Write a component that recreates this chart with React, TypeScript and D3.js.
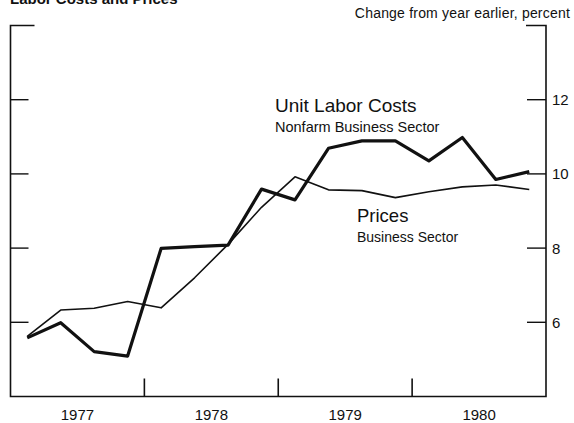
import React from 'react'
import * as d3 from 'd3'

// quarterly observations, 1977:Q1 through 1980:Q4
const quarters = [
  '1977Q1', '1977Q2', '1977Q3', '1977Q4',
  '1978Q1', '1978Q2', '1978Q3', '1978Q4',
  '1979Q1', '1979Q2', '1979Q3', '1979Q4',
  '1980Q1', '1980Q2', '1980Q3', '1980Q4',
]
const unitLaborCosts = [5.58, 5.99, 5.21, 5.09, 7.99, 8.04, 8.08, 9.59, 9.3, 10.69, 10.89, 10.89, 10.35, 10.98, 9.85, 10.06]
const prices = [5.62, 6.33, 6.38, 6.56, 6.39, 7.2, 8.1, 9.1, 9.92, 9.57, 9.55, 9.36, 9.52, 9.65, 9.7, 9.58]
const years = [1977, 1978, 1979, 1980]
const yTicks = [6, 8, 10, 12]

const W = 574
const H = 423
const left = 10.5
const right = 546
const top = 25.5
const bottom = 396.5
const font = '"Liberation Sans", Arial, sans-serif'

const qTime = (q: string) => +q.slice(0, 4) + (+q.slice(5) - 0.5) / 4

export default function App() {
  const x = d3.scaleLinear().domain([1977, 1981]).range([left, right])
  const y = d3.scaleLinear().domain([4, 14]).range([bottom, top])

  const line = d3
    .line<number>()
    .x((_, i) => x(qTime(quarters[i])))
    .y((d) => y(d))

  return (
    <svg
      width={W}
      height={H}
      style={{ position: 'absolute', left: 0, top: 0, background: '#fff' }}
      fontFamily={font}
    >
      {/* title sits mostly above the crop, as in the source scan */}
      <text x={10} y={3.5} fontSize={15} fontWeight="bold" fill="#111">
        Labor Costs and Prices
      </text>
      <text x={570} y={18} fontSize={14} textAnchor="end" fill="#111" letterSpacing={0.2}>
        Change from year earlier, percent
      </text>

      {/* frame: open top with short corner stubs */}
      <path
        d={`M${left + 24},${top}H${left}V${bottom}H${right}V${top}H${right - 20}`}
        fill="none"
        stroke="#111"
        strokeWidth={1.6}
      />

      {yTicks.map((t) => (
        <g key={t}>
          <line x1={left} x2={left + 18} y1={y(t)} y2={y(t)} stroke="#111" strokeWidth={1.4} />
          <line x1={right - 19} x2={right} y1={y(t)} y2={y(t)} stroke="#111" strokeWidth={1.4} />
          <text x={right + 6} y={y(t)} dy="0.36em" fontSize={15} fill="#111">
            {t}
          </text>
        </g>
      ))}

      {years.slice(1).map((yr) => (
        <line key={yr} x1={x(yr)} x2={x(yr)} y1={bottom} y2={bottom - 18} stroke="#111" strokeWidth={1.6} />
      ))}
      {years.map((yr) => (
        <text key={yr} x={x(yr + 0.5)} y={420} fontSize={15} textAnchor="middle" fill="#111">
          {yr}
        </text>
      ))}

      <path d={line(prices) || ''} fill="none" stroke="#111" strokeWidth={1.6} strokeLinejoin="round" />
      <path d={line(unitLaborCosts) || ''} fill="none" stroke="#111" strokeWidth={3.2} strokeLinejoin="round" />

      <text x={275} y={111.5} fontSize={19} fill="#111">
        Unit Labor Costs
      </text>
      <text x={275} y={131.5} fontSize={14.5} fill="#111">
        Nonfarm Business Sector
      </text>
      <text x={357} y={221.5} fontSize={18.5} fill="#111">
        Prices
      </text>
      <text x={357} y={241.5} fontSize={14} fill="#111">
        Business Sector
      </text>
    </svg>
  )
}
